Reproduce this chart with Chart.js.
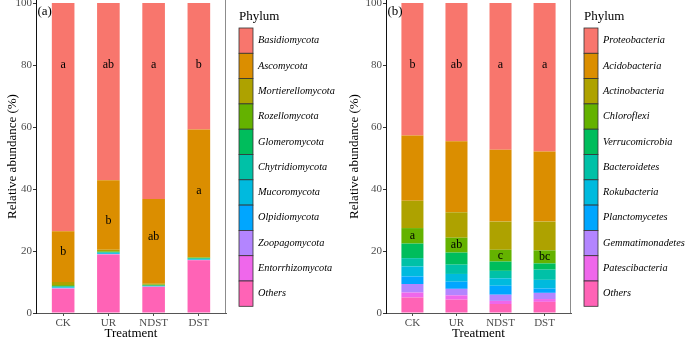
<!DOCTYPE html>
<html>
<head>
<meta charset="utf-8">
<script src="https://cdn.jsdelivr.net/npm/chart.js@4.4.0/dist/chart.umd.min.js"></script>
<style>
  html, body { margin: 0; padding: 0; background: #fff; }
  #wrap { position: relative; width: 685px; height: 339px; overflow: hidden; }
  .panel { position: absolute; top: 0; height: 341px; }
</style>
</head>
<body>
<div id="wrap">
  <div class="panel" style="left:0;width:340px"><canvas id="chartA"></canvas></div>
  <div class="panel" style="left:340px;width:345px"><canvas id="chartB"></canvas></div>
</div>
<script>
const treatments = ["CK", "UR", "NDST", "DST"];
const yTicks = [0, 20, 40, 60, 80, 100];

// legend order, top of the bar first
const phylumColors = ["#F8766D", "#DB8E00", "#AEA200", "#64B200", "#00BD5C", "#00C1A7",
                      "#00BADE", "#00A6FF", "#B385FF", "#EF67EB", "#FF63B6"];

const fungiPhyla = ["Basidiomycota", "Ascomycota", "Mortierellomycota", "Rozellomycota",
                    "Glomeromycota", "Chytridiomycota", "Mucoromycota", "Olpidiomycota",
                    "Zoopagomycota", "Entorrhizomycota", "Others"];
const fungiValues = [
  [73.6, 57.2, 63.25, 40.8],
  [16.4, 22.4, 27.3, 41.2],
  [1.0, 0.5, 0.3, 0.1],
  [0.3, 0.2, 0.2, 0.2],
  [0.2, 0.2, 0.2, 0.2],
  [0.2, 0.1, 0.1, 0.15],
  [0.2, 0.3, 0.1, 0.2],
  [0.1, 0.1, 0.05, 0.05],
  [0.1, 0.05, 0.05, 0.05],
  [0.1, 0.05, 0.05, 0.05],
  [7.8, 18.9, 8.4, 17.0]
];
const fungiTopLetters = ["a", "ab", "a", "b"];
const fungiTopLetterY = [80, 80, 80, 80];
const fungiAscoLetters = ["b", "b", "ab", "a"];
const fungiAscoLetterY = [19.8, 29.8, 24.6, 39.5];

const bacteriaPhyla = ["Proteobacteria", "Acidobacteria", "Actinobacteria", "Chloroflexi",
                       "Verrucomicrobia", "Bacteroidetes", "Rokubacteria", "Planctomycetes",
                       "Gemmatimonadetes", "Patescibacteria", "Others"];
const bacteriaValues = [
  [42.7, 44.6, 47.3, 47.9],
  [21.1, 22.9, 23.2, 22.6],
  [8.8, 8.2, 9.1, 9.3],
  [5.0, 4.8, 3.8, 4.2],
  [4.7, 3.9, 3.0, 2.0],
  [2.7, 3.0, 2.4, 3.3],
  [3.2, 2.5, 2.4, 2.8],
  [2.45, 2.3, 2.9, 1.4],
  [2.75, 2.1, 2.0, 2.0],
  [1.6, 1.4, 1.0, 0.9],
  [5.0, 4.3, 2.9, 3.6]
];
const bacteriaTopLetters = ["b", "ab", "a", "a"];
const bacteriaTopLetterY = [80, 80, 80, 80];
const bacteriaChloroLetters = ["a", "ab", "c", "bc"];
const bacteriaChloroLetterY = [24.9, 21.9, 18.5, 18.1];

const serif = "'Liberation Serif', 'Times New Roman', serif";

// letters, panel tag, frame and legend drawn on top of the bars
const extrasPlugin = {
  id: "extras",
  afterDraw(chart, args, opts) {
    const ctx = chart.ctx;
    const area = chart.chartArea;
    const x = chart.scales.x, y = chart.scales.y;
    ctx.save();

    // right side of the panel frame
    ctx.strokeStyle = "#8c8c8c";
    ctx.lineWidth = 1;
    ctx.beginPath();
    ctx.moveTo(Math.round(area.right) - 0.5, area.top);
    ctx.lineTo(Math.round(area.right) - 0.5, area.bottom);
    ctx.stroke();

    ctx.fillStyle = "#000";
    ctx.textAlign = "center";
    ctx.textBaseline = "middle";
    ctx.font = "12px " + serif;
    opts.letters.forEach((set) => {
      set.text.forEach((t, i) => {
        ctx.fillText(t, x.getPixelForValue(i), y.getPixelForValue(set.y[i]));
      });
    });

    ctx.textAlign = "left";
    ctx.font = "13px " + serif;
    ctx.fillText(opts.tag, area.left + 1.5, 12);

    // legend
    const lx = opts.legendX, top = 28, keyH = 25.3;
    ctx.fillText("Phylum", lx, 17);
    ctx.font = "italic 10.3px " + serif;
    opts.names.forEach((name, i) => {
      const ky = top + i * keyH;
      ctx.fillStyle = phylumColors[i];
      ctx.fillRect(lx, ky, 14, keyH);
      ctx.strokeStyle = "#333";
      ctx.lineWidth = 0.8;
      ctx.strokeRect(lx, ky, 14, keyH);
      ctx.fillStyle = "#000";
      ctx.fillText(name, lx + 19, ky + keyH / 2);
    });
    ctx.restore();
  }
};

function makeDatasets(names, values) {
  // bottom of the stack first
  return names.map((name, i) => ({
    label: name,
    data: values[i].map((v, j) => ({ x: j, y: v })),
    backgroundColor: phylumColors[i],
    borderWidth: 0,
    barPercentage: 0.5,
    categoryPercentage: 1.0
  })).reverse();
}

function makeChart(id, names, values, axisWidth, tag, legendX, titlePad, letters) {
  return new Chart(document.getElementById(id), {
    type: "bar",
    data: { datasets: makeDatasets(names, values) },
    plugins: [extrasPlugin],
    options: {
      responsive: true,
      maintainAspectRatio: false,
      animation: false,
      layout: { padding: { left: 0, right: 114, top: 0, bottom: 0 } },
      plugins: {
        legend: { display: false },
        tooltip: { enabled: false },
        extras: { tag: tag, legendX: legendX, names: names, letters: letters }
      },
      scales: {
        x: {
          type: "linear",
          min: -0.6,
          max: 3.6,
          offset: false,
          stacked: true,
          afterBuildTicks: (s) => { s.ticks = treatments.map((t, i) => ({ value: i })); },
          afterFit: (s) => { s.height = 28; s.paddingLeft = 0; s.paddingRight = 0; },
          ticks: {
            callback: (v) => treatments[v],
            color: "#4d4d4d",
            font: { family: serif, size: 11 },
            padding: 1,
            autoSkip: false,
            maxRotation: 0
          },
          grid: { display: true, offset: false, drawOnChartArea: false, drawTicks: true, tickLength: 3, color: "#4d4d4d" },
          border: { display: true, color: "#555" },
          title: { display: true, text: "Treatment", color: "#000", font: { family: serif, size: 13 }, padding: 0 }
        },
        y: {
          min: 0,
          max: 101,
          stacked: true,
          afterBuildTicks: (s) => { s.ticks = yTicks.map((v) => ({ value: v })); },
          afterFit: (s) => { s.width = axisWidth; s.paddingTop = 0; s.paddingBottom = 0; },
          ticks: {
            color: "#4d4d4d",
            font: { family: serif, size: 11 },
            padding: 1
          },
          grid: { display: true, drawOnChartArea: false, drawTicks: true, tickLength: 3, color: "#333" },
          border: { display: true, color: "#111" },
          title: { display: true, text: "Relative abundance (%)", color: "#000", font: { family: serif, size: 13 }, padding: { top: titlePad, bottom: 0 } }
        }
      }
    }
  });
}

makeChart("chartA", fungiPhyla, fungiValues, 36, "(a)", 239, 5, [
  { text: fungiTopLetters, y: fungiTopLetterY },
  { text: fungiAscoLetters, y: fungiAscoLetterY }
]);
makeChart("chartB", bacteriaPhyla, bacteriaValues, 46, "(b)", 244, 7, [
  { text: bacteriaTopLetters, y: bacteriaTopLetterY },
  { text: bacteriaChloroLetters, y: bacteriaChloroLetterY }
]);
</script>
</body>
</html>
